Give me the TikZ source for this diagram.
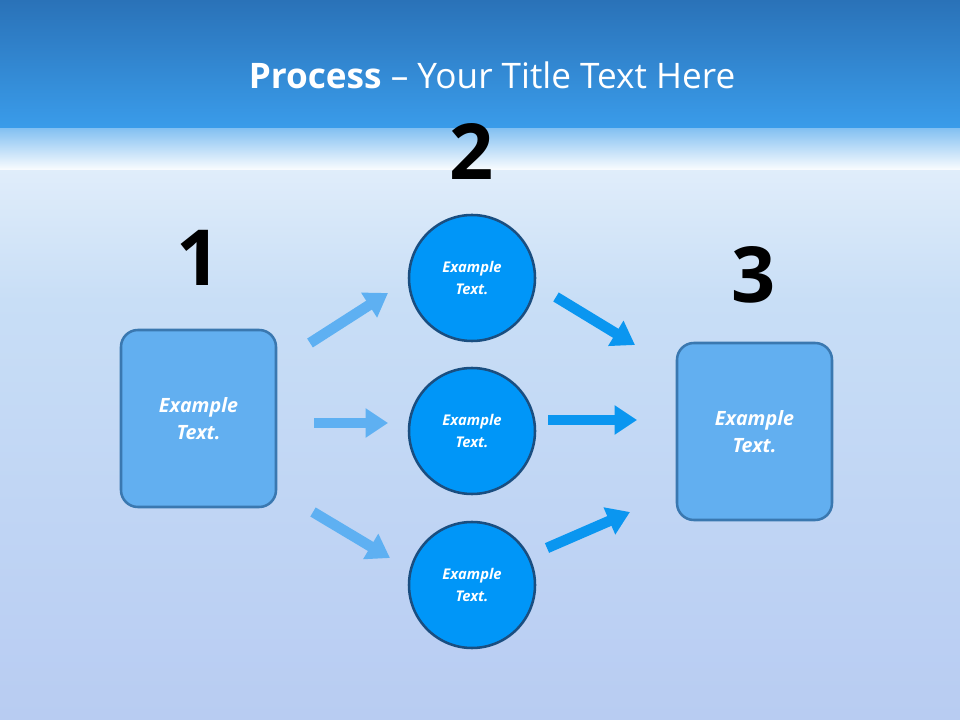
\documentclass[tikz,border=0pt]{standalone}
\usepackage{fontspec}
\setmainfont{Open Sans}
\usetikzlibrary{arrows.meta}
\definecolor{topA}{HTML}{2A72B8}
\definecolor{topB}{HTML}{3A9CEA}
\definecolor{bgA}{HTML}{E8F2FC}
\definecolor{bgM}{HTML}{C8DEF6}
\definecolor{bgB}{HTML}{B8CCF2}
\definecolor{boxF}{HTML}{62AFF0}
\definecolor{boxD}{HTML}{3A78B0}
\definecolor{cirF}{HTML}{0096F8}
\definecolor{cirD}{HTML}{1A4E80}
\definecolor{arrL}{HTML}{5EB0F2}
\definecolor{arrR}{HTML}{0A96F0}
\tikzset{
 boxnode/.style={draw=boxD,line width=1.8pt,fill=boxF,rounded corners=12pt,minimum width=155*0.025cm,minimum height=177*0.025cm,align=center,text=white,font=\fontsize{14}{19}\selectfont\bfseries\itshape},
 circnode/.style={circle,draw=cirD,line width=1.8pt,fill=cirF,minimum size=126*0.025cm,align=center,text=white,font=\fontsize{10.5}{15}\selectfont\bfseries\itshape},
 numnode/.style={font=\fontsize{55}{58}\selectfont\bfseries,text=black},
 blk/.style={line width=7.5pt,-{Triangle[length=16pt,width=20pt]}},
}
\begin{document}
\begin{tikzpicture}[x=0.025cm,y=-0.025cm]
\useasboundingbox (0,0) rectangle (960,720);
\shade[top color=bgM,bottom color=bgB] (0,300) rectangle (960,720);
\shade[top color=bgA,bottom color=bgM] (0,125) rectangle (960,300.5);
\shade[top color=topB!60!bgA,bottom color=white!80!bgA] (0,127) rectangle (960,170);
\shade[top color=topA,bottom color=topB] (0,0) rectangle (960,128);
\node[text=white,font=\fontsize{25}{29}\selectfont] (title) at (492,75) {\textbf{Process} – Your Title Text Here};
\node[numnode] (n1) at (199,258) {1};
\node[numnode] (n2) at (472,152) {2};
\node[numnode] (n3) at (754,275) {3};
\node[boxnode] (b1) at (198.5,418.5) {Example\\Text.};
\node[boxnode] (b3) at (754.5,431.5) {Example\\Text.};
\node[circnode] (c1) at (472,278) {Example\\Text.};
\node[circnode] (c2) at (472,431) {Example\\Text.};
\node[circnode] (c3) at (472,585) {Example\\Text.};
\coordinate (a1s) at (310,343); \coordinate (a1e) at (388,293);
\coordinate (a2s) at (314,423); \coordinate (a2e) at (388,423);
\coordinate (a3s) at (313,512); \coordinate (a3e) at (390,558);
\coordinate (r1s) at (556,297); \coordinate (r1e) at (635,345);
\coordinate (r2s) at (548,420); \coordinate (r2e) at (637,420);
\coordinate (r3s) at (547,548); \coordinate (r3e) at (630,512);
\draw[blk,arrL] (a1s) -- (a1e);
\draw[blk,arrL] (a2s) -- (a2e);
\draw[blk,arrL] (a3s) -- (a3e);
\draw[blk,arrR] (r1s) -- (r1e);
\draw[blk,arrR] (r2s) -- (r2e);
\draw[blk,arrR] (r3s) -- (r3e);
\end{tikzpicture}
\end{document}
